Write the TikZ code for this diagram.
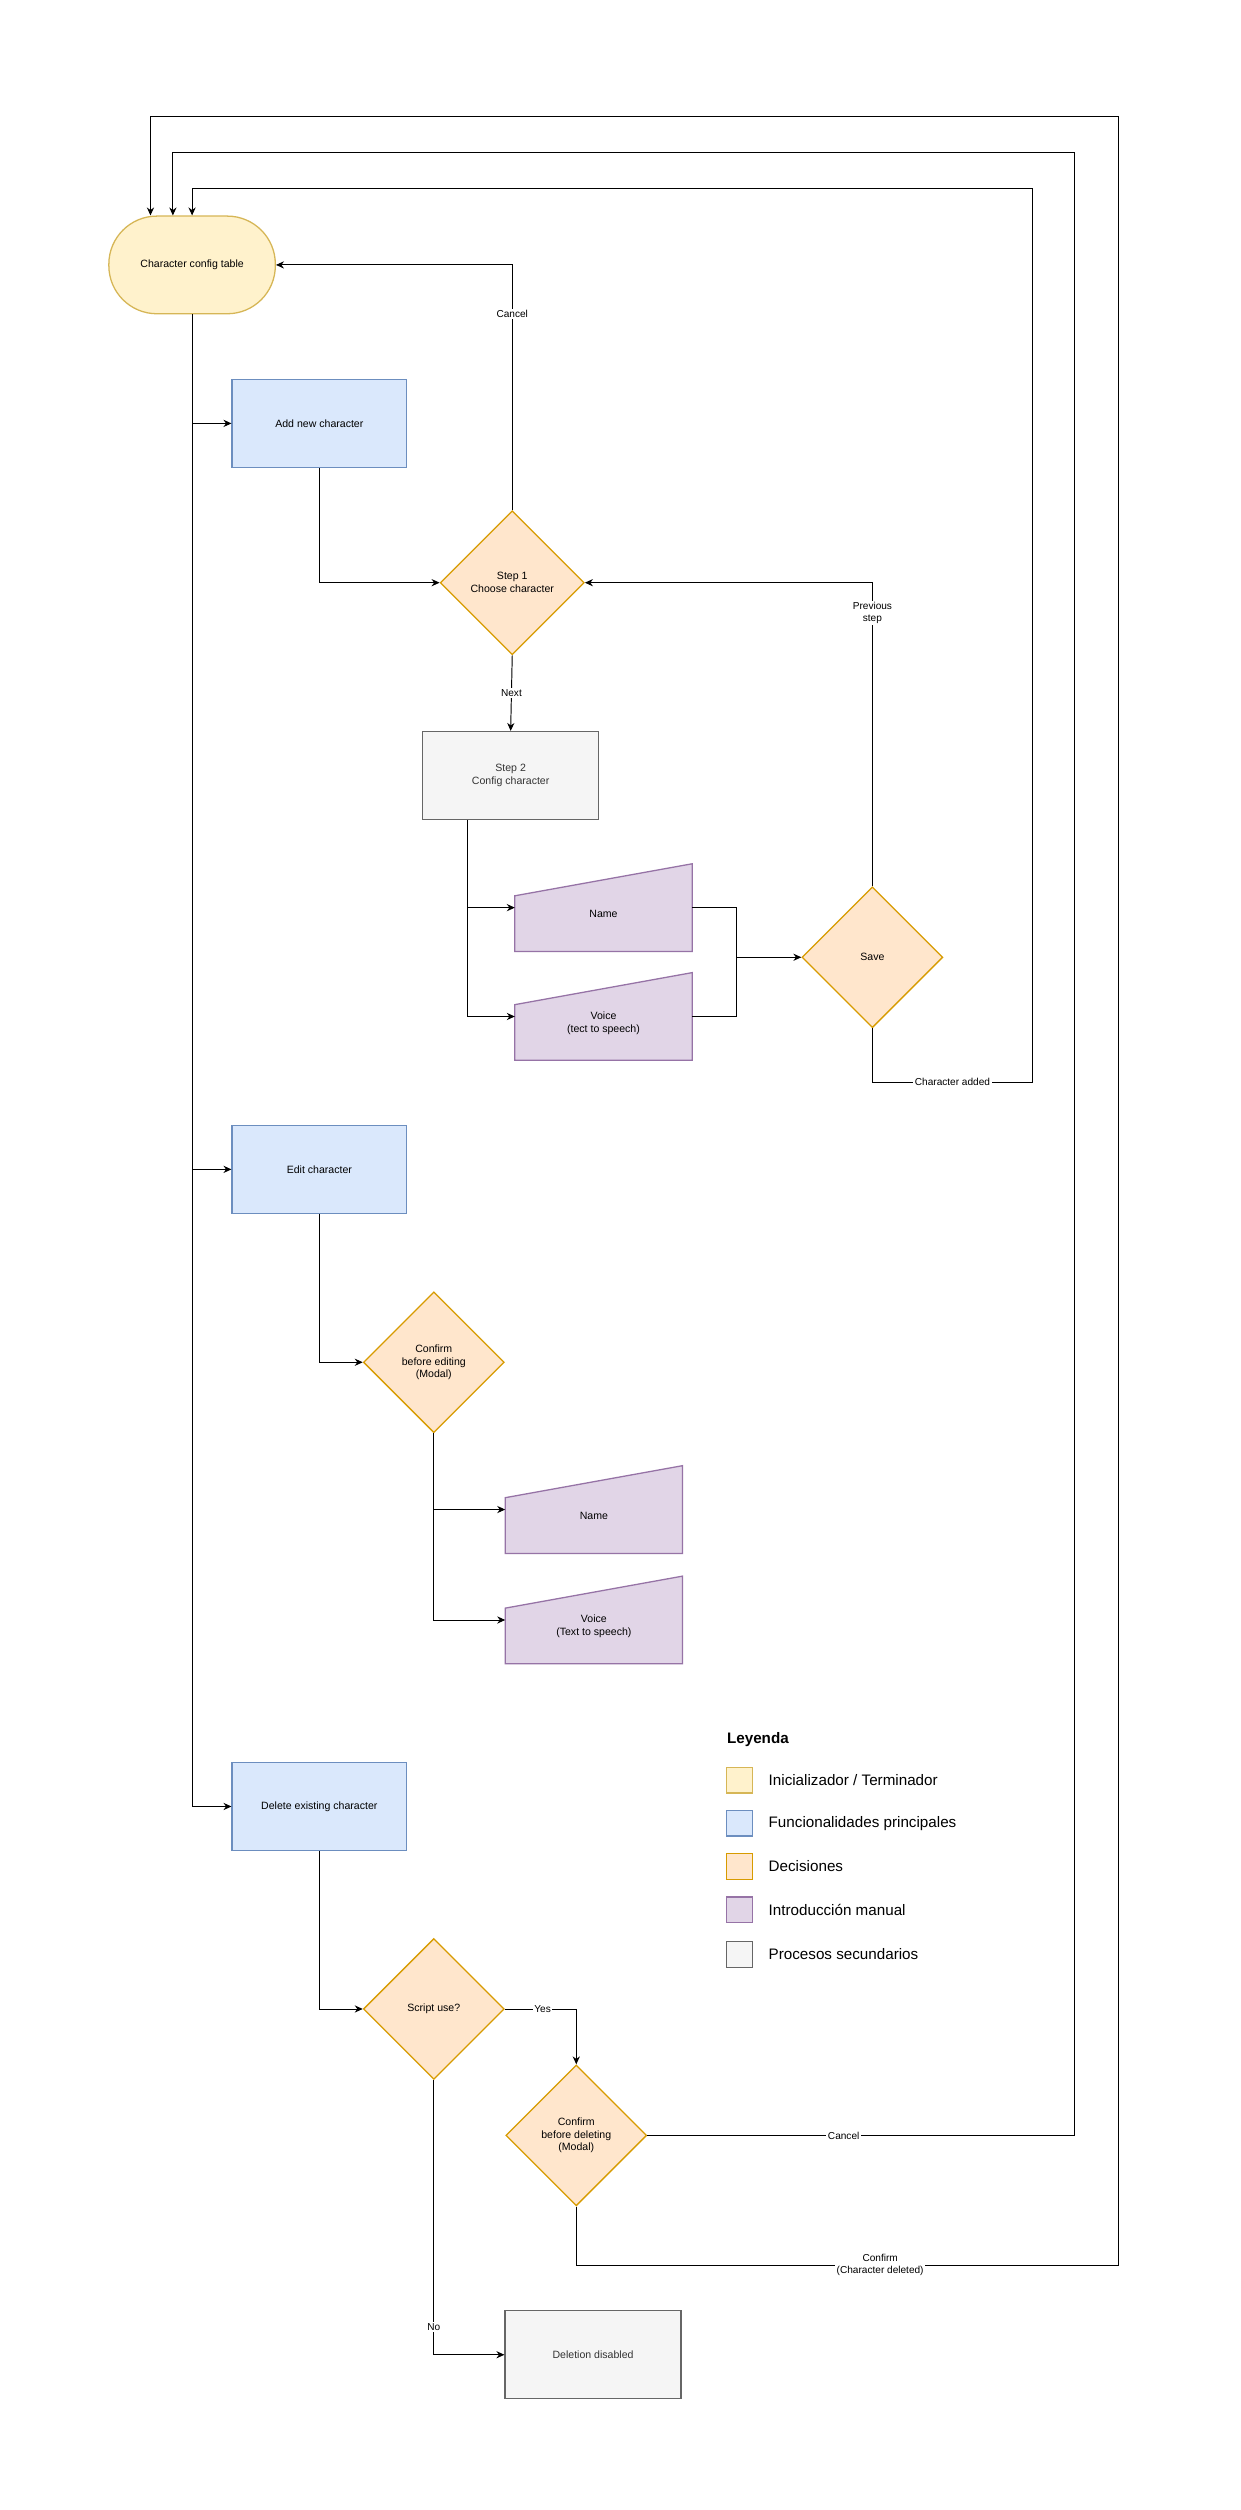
\documentclass[tikz,border=0pt]{standalone}
\usepackage{fontspec}
\setmainfont{Liberation Sans}
\usetikzlibrary{shapes.geometric,arrows.meta}
\definecolor{yf}{HTML}{FFF2CC}\definecolor{yd}{HTML}{D6B656}
\definecolor{bf}{HTML}{DAE8FC}\definecolor{bd}{HTML}{6C8EBF}
\definecolor{of}{HTML}{FFE6CC}\definecolor{od}{HTML}{D79B00}
\definecolor{pf}{HTML}{E1D5E7}\definecolor{pd}{HTML}{9673A6}
\definecolor{gf}{HTML}{F5F5F5}\definecolor{gd}{HTML}{666666}
\begin{document}
\begin{tikzpicture}[x=1pt,y=-1pt,
  font=\fontsize{6.6}{8}\selectfont,
  base/.style={line width=0.8pt,align=center,inner sep=0pt},
  termbox/.style={base,draw=yd,fill=yf,rounded corners=30pt,minimum width=104pt,minimum height=61pt},
  mainbox/.style={base,draw=bd,fill=bf,minimum width=109pt,minimum height=55pt},
  secbox/.style={base,draw=gd,fill=gf,minimum width=110pt,minimum height=55pt,text=black!80},
  decision/.style={base,draw=od,fill=of,diamond,minimum width=90pt,minimum height=90pt},
  decisionb/.style={base,draw=od,fill=of,diamond,minimum width=88pt,minimum height=88pt},
  manualbox/.style={base,minimum width=110pt,minimum height=54pt},
  manfill/.style={draw=pd,fill=pf,line width=0.8pt},
  conn/.style={draw=black,line width=0.6pt,-{Stealth[length=5pt,width=4.5pt]}},
  lbl/.style={fill=white,inner sep=1pt,font=\fontsize{6.3}{7.5}\selectfont,align=center},
  legsq/.style={line width=0.8pt,minimum width=16pt,minimum height=16pt,inner sep=0pt},
  legtx/.style={anchor=west,font=\fontsize{9.5}{11}\selectfont,inner sep=0pt}
]
\useasboundingbox (0,0) rectangle (775,1568);
\fill[white] (0,0) rectangle (775,1568);

% nodes
\node[termbox] (term) at (120,165.5) {Character config table};
\node[mainbox] (add) at (199.5,264.5) {Add new character};
\node[decision] (s1) at (320,364) {Step 1\\Choose character};
\node[secbox] (s2) at (319,484.5) {Step 2\\Config character};
\node[manualbox] (name1) at (377,567) {};
\node[manualbox] (voice1) at (377,635) {};
\node[decisionb] (save) at (545,598) {Save};
\node[mainbox] (edit) at (199.5,730.5) {Edit character};
\node[decisionb] (ced) at (271,851) {Confirm\\before editing\\(Modal)};
\node[manualbox] (name2) at (371,943) {};
\node[manualbox] (voice2) at (371,1012) {};
\node[mainbox] (del) at (199.5,1128.5) {Delete existing character};
\node[decisionb] (script) at (271,1255) {Script use?};
\node[decisionb] (cdel) at (360,1334) {Confirm\\before deleting\\(Modal)};
\node[secbox] (dis) at (370.5,1471) {Deletion disabled};

% manual input shapes
\foreach \n/\t in {name1/Name,voice1/{Voice\\(tect to speech)},name2/Name,voice2/{Voice\\(Text to speech)}}{
  \draw[manfill] ([yshift=-20pt]\n.north west) -- (\n.north east) -- (\n.south east) -- (\n.south west) -- cycle;
  \node[align=center] at ([yshift=-4pt]\n.center) {\t};
}

% trunk
\coordinate (tk1) at (120,1128.5);
\draw[line width=0.6pt] (term.south) -- (tk1);
\draw[conn] (term.south |- add.west) -- (add.west);
\draw[conn] (term.south |- edit.west) -- (edit.west);
\draw[conn] (tk1) -- (del.west);

% add branch
\draw[conn] (add.south) |- (s1.west);
\draw[conn] (s1.north) |- (term.east) node[lbl,pos=0.4] {Cancel};
\draw[conn] (s1.south) -- (s2.north) node[lbl,midway] {Next};
\draw[conn] (s2.south -| 292,0) |- (name1.west);
\draw[conn] (s2.south -| 292,0) |- (voice1.west);
\coordinate (j1) at (460,598);
\draw[line width=0.6pt] (name1.east) -| (j1);
\draw[line width=0.6pt] (voice1.east) -| (j1);
\draw[conn] (j1) -- (save.west);
\draw[conn] (save.north) |- (s1.east) node[lbl,pos=0.45] {Previous\\step};
\coordinate (ca) at (645,676);
\draw[conn] (save.south) |- (ca) node[lbl,pos=0.75] {Character added} -- (645,118) -| ([xshift=0pt]term.north);

% edit branch
\draw[conn] (edit.south) |- (ced.west);
\draw[conn] (ced.south) |- (name2.west);
\draw[conn] (ced.south) |- (voice2.west);

% delete branch
\draw[conn] (del.south) |- (script.west);
\draw[conn] (script.east) -| (cdel.north) node[lbl,pos=0.5,xshift=-21pt] {Yes};
\draw[conn] (script.south) |- (dis.west) node[lbl,pos=0.45] {No};
\draw[conn] (cdel.east) -| (671,95) node[lbl,pos=0.23] {Cancel} -| ([xshift=-12pt]term.north);
\draw[conn] (cdel.south) |- (699,1415) node[lbl,pos=0.78] {Confirm\\(Character deleted)} -- (699,73) -| ([xshift=-26pt]term.north);

% legend
\node[anchor=west,font=\fontsize{9.5}{11}\selectfont\bfseries,inner sep=0pt] (leg) at (454,1087) {Leyenda};
\node[legsq,draw=yd,fill=yf] (l1) at (462,1112) {};
\node[legsq,draw=bd,fill=bf] (l2) at (462,1139) {};
\node[legsq,draw=od,fill=of] (l3) at (462,1166) {};
\node[legsq,draw=pd,fill=pf] (l4) at (462,1193) {};
\node[legsq,draw=gd,fill=gf] (l5) at (462,1221) {};
\node[legtx] (t1) at (480,1112) {Inicializador / Terminador};
\node[legtx] (t2) at (480,1139) {Funcionalidades principales};
\node[legtx] (t3) at (480,1166) {Decisiones};
\node[legtx] (t4) at (480,1193) {Introducción manual};
\node[legtx] (t5) at (480,1221) {Procesos secundarios};
\end{tikzpicture}
\end{document}
